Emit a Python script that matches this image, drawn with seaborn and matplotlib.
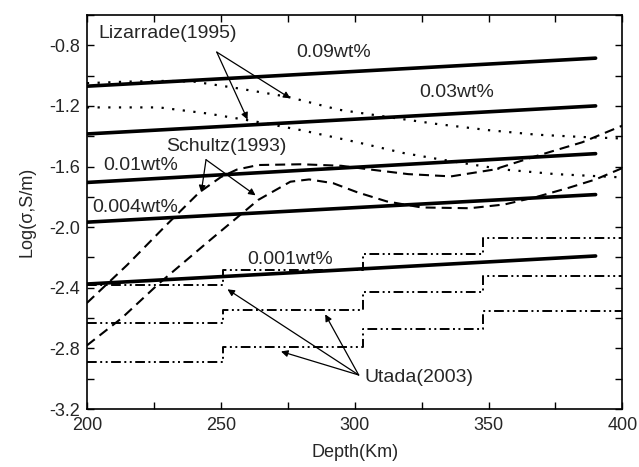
import matplotlib
matplotlib.use("Agg")
import matplotlib.pyplot as plt
from matplotlib.ticker import MultipleLocator
import numpy as np
import pandas as pd
import seaborn as sns

# ---------------------------------------------------------------------------
# Data
# ---------------------------------------------------------------------------

# water content model lines (solid), endpoints at 200 and 390 km
wt_depth = [200, 390]
wt_labels = ["0.09wt%", "0.03wt%", "0.01wt%", "0.004wt%", "0.001wt%"]
wt_start = [-1.07, -1.385, -1.705, -1.967, -2.375]
wt_end = [-0.885, -1.20, -1.515, -1.785, -2.19]

# Lizarrade (1995), dotted
liz_depth_a = [200, 215, 230, 240, 255, 275, 294, 315, 331, 350, 368, 385, 400]
liz_cond_a = [-1.05, -1.04, -1.035, -1.04, -1.08, -1.14, -1.225, -1.28, -1.32, -1.36, -1.39, -1.405, -1.415]
liz_depth_b = [200, 215, 227, 245, 262, 280, 301, 318, 331, 345, 356, 375, 398]
liz_cond_b = [-1.21, -1.21, -1.21, -1.25, -1.30, -1.36, -1.44, -1.51, -1.55, -1.59, -1.62, -1.65, -1.67]

# Schultz (1993), dashed
sch_depth_a = [200, 215, 230, 242, 250, 256, 264, 280, 295, 306, 320, 336, 352, 368, 385, 400]
sch_cond_a = [-2.50, -2.25, -1.98, -1.77, -1.67, -1.62, -1.59, -1.585, -1.595, -1.62, -1.65, -1.665, -1.62, -1.53, -1.44, -1.33]
sch_depth_b = [200, 213, 227, 245, 264, 276, 283, 292, 301, 312, 325, 343, 356, 368, 380, 390, 400]
sch_cond_b = [-2.78, -2.60, -2.37, -2.10, -1.82, -1.70, -1.685, -1.71, -1.77, -1.83, -1.87, -1.875, -1.85, -1.80, -1.74, -1.685, -1.61]

# Utada (2003), steps (dash-dot-dot)
uta_edges = [200, 251, 303, 348, 400]
uta_top = [-2.38, -2.28, -2.18, -2.07]
uta_mid = [-2.63, -2.545, -2.43, -2.32]
uta_bot = [-2.89, -2.79, -2.67, -2.55]

y_ticks = [-3.2, -2.8, -2.4, -2.0, -1.6, -1.2, -0.8]

dotted = (0, (1, 3.8))
dashed = (0, (4.8, 2.9))
dashdotdot = (0, (5, 1.8, 1, 1.8, 1, 1.8))

# ---------------------------------------------------------------------------
# Plot
# ---------------------------------------------------------------------------

sns.set_style("ticks")
plt.rcParams["font.family"] = ["Liberation Sans", "DejaVu Sans"]

fig = plt.figure(figsize=(6.39, 4.67), dpi=100)
ax = fig.add_axes([0.136, 0.124, 0.838, 0.844])

for s, e in zip(wt_start, wt_end):
    sns.lineplot(x=wt_depth, y=[s, e], ax=ax, color="black", lw=2.6, estimator=None)

for d, c in [(liz_depth_a, liz_cond_a), (liz_depth_b, liz_cond_b)]:
    sns.lineplot(x=d, y=c, ax=ax, color="black", lw=1.6, linestyle=dotted, estimator=None)

for d, c in [(sch_depth_a, sch_cond_a), (sch_depth_b, sch_cond_b)]:
    sns.lineplot(x=d, y=c, ax=ax, color="black", lw=1.5, linestyle=dashed, estimator=None)

for vals in [uta_top, uta_mid, uta_bot]:
    sns.lineplot(x=uta_edges, y=vals + [vals[-1]], ax=ax, color="black", lw=1.4,
                 linestyle=dashdotdot, drawstyle="steps-post", estimator=None)

# labels for the water content lines
fs = 14
wt_text_pos = [(292, -0.85), (338, -1.11), (220, -1.59), (218, -1.87), (276, -2.21)]
for lab, (x, y) in zip(wt_labels, wt_text_pos):
    ax.text(x, y, lab, ha="center", va="center", fontsize=fs)

arrow = dict(arrowstyle="-|>", color="black", lw=0.9, mutation_scale=10,
             shrinkA=0, shrinkB=0)

# Lizarrade
ax.text(230, -0.725, "Lizarrade(1995)", ha="center", va="center", fontsize=fs)
for tgt in [(276, -1.15), (260, -1.29)]:
    ax.annotate("", xy=tgt, xytext=(248.5, -0.845), arrowprops=arrow)

# Schultz
ax.text(252, -1.47, "Schultz(1993)", ha="center", va="center", fontsize=fs)
for tgt in [(242.7, -1.77), (263, -1.79)]:
    ax.annotate("", xy=tgt, xytext=(244.5, -1.555), arrowprops=arrow)

# Utada
ax.text(303.5, -2.99, "Utada(2003)", ha="left", va="center", fontsize=fs)
for tgt in [(252.5, -2.41), (289, -2.575), (272.5, -2.82)]:
    ax.annotate("", xy=tgt, xytext=(301.5, -2.975), arrowprops=arrow)

ax.set_xlim(200, 400)
ax.set_ylim(-3.2, -0.6)
ax.xaxis.set_major_locator(MultipleLocator(50))
ax.xaxis.set_minor_locator(MultipleLocator(25))
ax.yaxis.set_minor_locator(MultipleLocator(0.2))
ax.set_yticks(y_ticks)
ax.set_yticklabels([f"{v:.1f}" for v in y_ticks])
ax.tick_params(which="both", direction="in", top=True, right=True,
               labelsize=13, color="black", width=1, length=5)
ax.tick_params(axis="x", pad=6)
ax.tick_params(axis="y", pad=5)
for sp in ax.spines.values():
    sp.set_color("black")
    sp.set_linewidth(1.2)

ax.set_xlabel("Depth(Km)", fontsize=13, labelpad=7)
ax.set_ylabel("Log(σ,S/m)", fontsize=13, labelpad=10)

fig.savefig("out.png", dpi=100)
